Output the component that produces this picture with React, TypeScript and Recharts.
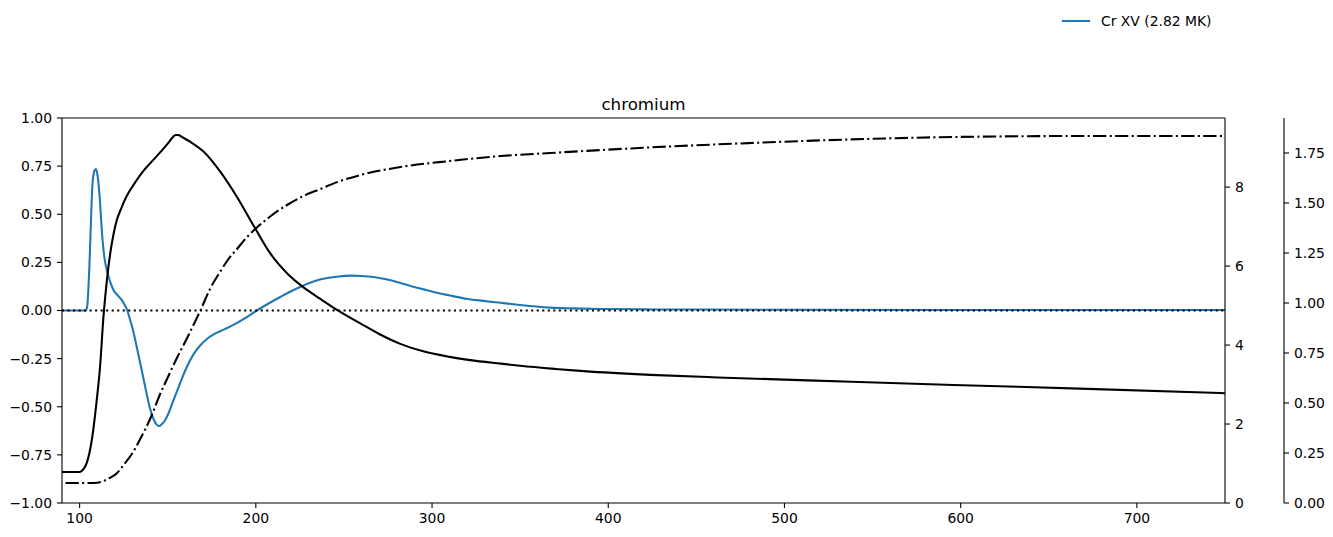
import React from 'react';
import { LineChart, Line, XAxis, YAxis, ReferenceLine, Legend } from 'recharts';

// Cr XV emission (left axis)
const blueX = [90, 103.5, 104.3, 104.9, 105.5, 106.2, 107.2, 108.2, 109.3, 110.2, 111.2, 112.9, 114, 115.4, 117.3, 119.2, 121.5, 123.9, 125.5, 127, 128.6, 130.5, 132.4, 134.3, 136.2, 138.1, 140, 142, 143.5, 145.1, 146.7, 148.5, 150.4, 153.5, 157, 160.5, 164.6, 168.4, 172.2, 176, 182, 187.3, 193, 200.6, 207, 213.9, 220, 227, 234, 240.6, 247, 253.6, 260, 266.7, 274, 282, 291, 300.8, 310, 320, 329, 339, 348.5, 367, 380, 396, 420, 450, 500, 600, 750];
const blueY = [0, 0, 0.02, 0.1, 0.22, 0.4, 0.64, 0.72, 0.735, 0.7, 0.61, 0.38, 0.28, 0.21, 0.15, 0.107, 0.08, 0.055, 0.03, 0.002, -0.047, -0.11, -0.188, -0.27, -0.352, -0.435, -0.51, -0.565, -0.59, -0.6, -0.59, -0.57, -0.535, -0.46, -0.378, -0.3, -0.228, -0.182, -0.148, -0.124, -0.098, -0.075, -0.045, 0, 0.035, 0.07, 0.1, 0.13, 0.155, 0.169, 0.177, 0.181, 0.179, 0.174, 0.162, 0.143, 0.12, 0.096, 0.078, 0.06, 0.05, 0.04, 0.03, 0.015, 0.011, 0.008, 0.006, 0.005, 0.004, 0.003, 0.003];

// black solid curve (first right axis)
const solidX = [90, 100, 101.5, 104, 106.9, 109.7, 111.6, 113.5, 115.5, 117.3, 119.2, 121, 123.5, 126.8, 130.5, 136, 140, 145.7, 150, 153, 154.5, 156, 158, 162.7, 170.3, 179.8, 189.3, 199.7, 208.2, 217.7, 227.1, 236.6, 246, 259.3, 270, 282, 295, 310, 325, 339, 350, 370, 386, 424, 462, 500, 538, 596, 672, 750];
const solidY = [0.785, 0.785, 0.82, 1.01, 1.59, 2.6, 3.45, 4.7, 5.65, 6.3, 6.8, 7.15, 7.45, 7.78, 8.05, 8.4, 8.6, 8.88, 9.1, 9.27, 9.32, 9.32, 9.27, 9.15, 8.9, 8.39, 7.75, 6.95, 6.32, 5.82, 5.46, 5.17, 4.89, 4.55, 4.28, 4.03, 3.84, 3.7, 3.6, 3.53, 3.475, 3.395, 3.34, 3.245, 3.18, 3.125, 3.07, 2.99, 2.89, 2.78];

// black dash-dot curve (second right axis)
const dashX = [92, 108, 112, 117, 121, 125, 130.5, 135, 141, 145, 149.6, 155.2, 161, 164.6, 168.4, 174, 179.8, 184.5, 189.3, 194.5, 199.7, 208.5, 217.7, 227, 236.6, 247, 259.3, 282, 310, 339, 367, 424, 481, 538, 596, 672, 750];
const dashY = [0.1, 0.1, 0.105, 0.125, 0.148, 0.19, 0.257, 0.33, 0.44, 0.53, 0.62, 0.725, 0.825, 0.89, 0.96, 1.07, 1.157, 1.22, 1.27, 1.325, 1.37, 1.435, 1.49, 1.535, 1.57, 1.607, 1.64, 1.68, 1.71, 1.735, 1.75, 1.778, 1.8, 1.818, 1.83, 1.835, 1.835];

const xTicks = [100, 200, 300, 400, 500, 600, 700];
const leftTicks = [-1, -0.75, -0.5, -0.25, 0, 0.25, 0.5, 0.75, 1];
const right1Ticks = [0, 2, 4, 6, 8];
const right2Ticks = [0, 0.25, 0.5, 0.75, 1, 1.25, 1.5, 1.75];

const seriesLabel = 'Cr XV (2.82 MK)';
const titleText = 'chromium';

const blueData = blueX.map((x, i) => ({ x, v: blueY[i] }));
const solidData = solidX.map((x, i) => ({ x, v: solidY[i] }));
const dashData = dashX.map((x, i) => ({ x, v: dashY[i] }));

const fmt2 = (v: number) => (v < 0 ? '\u2212' : '') + Math.abs(v).toFixed(2);
const FONT = 'DejaVu Sans, sans-serif';
const tickStyle = { fontSize: 13.9, fill: '#000', fontFamily: FONT };
const LW = 2.08;

const LegendContent = () => (
  <svg width={200} height={24} style={{ display: 'block' }}>
    <line x1={1} y1={9} x2={29} y2={9} stroke="#1f77b4" strokeWidth={LW} />
    <text x={40} y={14} fontSize={13.9} fontFamily={FONT} fill="#000">{seriesLabel}</text>
  </svg>
);

export default function App() {
  return (
    <div style={{ position: 'absolute', left: 0, top: 0, width: 1333, height: 537, background: '#fff' }}>
      <svg width={1333} height={120} style={{ position: 'absolute', left: 0, top: 0, pointerEvents: 'none' }}>
        <text x={643.5} y={110} textAnchor="middle" fontSize={16.7} fontFamily={FONT} fill="#000">{titleText}</text>
      </svg>
      <LineChart width={1333} height={537} margin={{ top: 118, right: 0, bottom: 0, left: 0 }}>
        <XAxis
          dataKey="x"
          type="number"
          domain={[90, 750]}
          ticks={xTicks}
          interval={0}
          allowDataOverflow
          height={34}
          tickSize={5}
          tickMargin={5}
          tick={tickStyle}
          stroke="#000"
          axisLine={{ stroke: '#000', strokeWidth: 1.1 }}
          tickLine={{ stroke: '#000', strokeWidth: 1.1 }}
        />
        <YAxis
          yAxisId="left"
          orientation="left"
          width={62}
          domain={[-1, 1]}
          ticks={leftTicks}
          interval={0}
          tickFormatter={fmt2}
          tickSize={5}
          tickMargin={5}
          tick={tickStyle}
          axisLine={{ stroke: '#000', strokeWidth: 1.1 }}
          tickLine={{ stroke: '#000', strokeWidth: 1.1 }}
        />
        <YAxis
          yAxisId="r1"
          orientation="right"
          width={59}
          domain={[0, 9.75]}
          ticks={right1Ticks}
          interval={0}
          tickSize={5}
          tickMargin={5}
          tick={tickStyle}
          axisLine={{ stroke: '#000', strokeWidth: 1.1 }}
          tickLine={{ stroke: '#000', strokeWidth: 1.1 }}
        />
        <YAxis
          yAxisId="r2"
          orientation="right"
          width={49}
          domain={[0, 1.925]}
          ticks={right2Ticks}
          interval={0}
          tickFormatter={fmt2}
          tickSize={5}
          tickMargin={5}
          tick={tickStyle}
          axisLine={{ stroke: '#000', strokeWidth: 1.1 }}
          tickLine={{ stroke: '#000', strokeWidth: 1.1 }}
        />
        <ReferenceLine yAxisId="left" y={1} stroke="#000" strokeWidth={1.1} />
        <Line
          yAxisId="left"
          data={blueData}
          dataKey="v"
          type="monotone"
          stroke="#1f77b4"
          strokeWidth={LW}
          dot={false}
          activeDot={false}
          isAnimationActive={false}
          name={seriesLabel}
        />
        <ReferenceLine yAxisId="left" y={0} stroke="#000" strokeWidth={LW} strokeDasharray="2.08 3.44" />
        <Line
          yAxisId="r1"
          data={solidData}
          dataKey="v"
          type="monotone"
          stroke="#000"
          strokeWidth={LW}
          dot={false}
          activeDot={false}
          isAnimationActive={false}
          legendType="none"
        />
        <Line
          yAxisId="r2"
          data={dashData}
          dataKey="v"
          type="monotone"
          stroke="#000"
          strokeWidth={LW}
          strokeDasharray="13.3 3.33 2.08 3.33"
          dot={false}
          activeDot={false}
          isAnimationActive={false}
          legendType="none"
        />
        <Legend
          layout="vertical"
          align="center"
          verticalAlign="middle"
          content={() => <LegendContent />}
          wrapperStyle={{ left: 1061, top: 12, width: 200, height: 24 }}
        />
      </LineChart>
    </div>
  );
}
